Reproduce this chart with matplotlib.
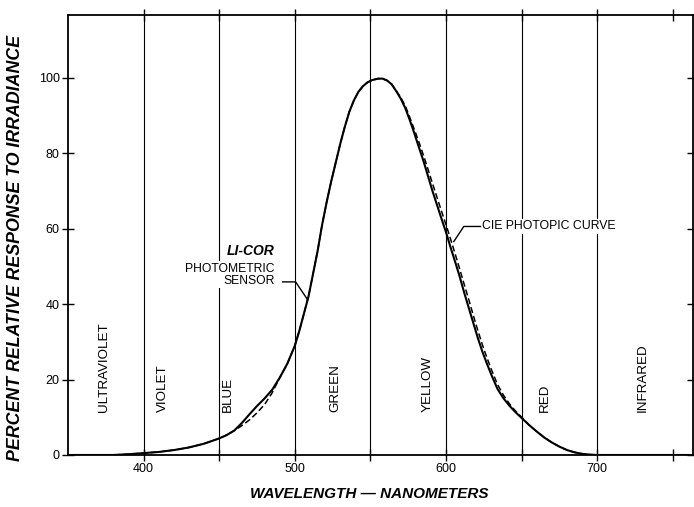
import matplotlib.pyplot as plt

plt.rcParams['font.family'] = ['Liberation Sans', 'DejaVu Sans']

# LI-COR photometric sensor response (solid line)
sensor_wl = [350, 380, 390, 400, 410, 420, 430, 440, 450, 455, 460, 465, 470, 475,
             480, 485, 490, 495, 500, 503, 506, 509, 512, 515, 518, 521, 524, 527,
             530, 533, 536, 539, 542, 545, 548, 551, 555, 558, 561, 564, 567, 570,
             573, 576, 579, 582, 585, 588, 591, 594, 597, 600, 603, 606, 609, 612,
             615, 618, 621, 624, 627, 630, 634, 638, 642, 646, 650, 655, 660, 665,
             670, 675, 680, 685, 690, 695, 700, 760]
sensor_val = [0, 0, 0.2, 0.5, 0.8, 1.3, 2.0, 3.0, 4.4, 5.3, 6.5, 8.5, 10.8, 13.0,
              15.0, 17.3, 20.5, 24.2, 29.0, 33.0, 37.5, 42.0, 48.0, 54.0, 61.0, 67.0, 72.5, 77.5,
              82.5, 87.0, 91.0, 94.0, 96.3, 97.8, 98.8, 99.4, 99.8, 99.8, 99.3, 98.3, 96.5, 94.5,
              92.0, 88.8, 85.3, 81.6, 78.0, 74.0, 70.0, 66.3, 62.6, 59.0, 55.0, 51.2, 47.3, 43.0,
              39.0, 35.0, 31.0, 27.4, 24.2, 21.2, 17.5, 15.0, 13.0, 11.3, 9.8, 7.9, 6.2, 4.6,
              3.3, 2.2, 1.3, 0.7, 0.3, 0.1, 0, 0]

# CIE photopic curve (dashed line)
cie_wl = [350, 380, 390, 400, 410, 420, 430, 440, 450, 455, 460, 465, 470, 475,
          480, 485, 490, 495, 500, 503, 506, 509, 512, 515, 518, 521, 524, 527,
          530, 533, 536, 539, 542, 545, 548, 551, 555, 558, 561, 564, 567, 570,
          573, 576, 579, 582, 585, 588, 591, 594, 597, 600, 603, 606, 609, 612,
          615, 618, 621, 624, 627, 630, 634, 638, 642, 646, 650, 655, 660, 665,
          670, 675, 680, 685, 690, 695, 700, 760]
cie_val = [0, 0, 0.2, 0.5, 0.8, 1.3, 2.0, 3.0, 4.4, 5.3, 6.5, 7.8, 9.3, 11.2,
           13.4, 16.5, 20.5, 24.2, 29.0, 33.0, 37.5, 42.0, 48.0, 54.0, 61.0, 67.0, 72.5, 77.5,
           82.5, 87.0, 91.0, 94.0, 96.3, 97.8, 98.8, 99.4, 99.8, 99.8, 99.3, 98.3, 96.6, 94.8,
           92.6, 89.5, 86.3, 83.0, 79.5, 75.8, 72.0, 68.3, 64.6, 61.0, 57.2, 53.3, 49.3, 45.2,
           41.2, 37.0, 33.0, 29.2, 25.8, 22.6, 18.7, 15.8, 13.5, 11.6, 10.0, 7.9, 6.2, 4.6,
           3.3, 2.2, 1.3, 0.7, 0.3, 0.1, 0, 0]

band_edges = [400, 450, 500, 550, 600, 650, 700]
band_names = ['ULTRAVIOLET', 'VIOLET', 'BLUE', 'GREEN', 'YELLOW', 'RED', 'INFRARED']
band_label_x = [373.6, 413, 455.5, 527, 588, 665, 730]

x_major = [400, 500, 600, 700]
x_minor = [450, 550, 650, 750]
y_ticks = [0, 20, 40, 60, 80, 100]

fig = plt.figure(figsize=(6.94, 5.07), dpi=100)
ax = fig.add_axes([0.098, 0.1026, 0.9, 0.868])

ax.set_xlim(350, 763)
ax.set_ylim(0, 116.7)

# band dividers
for x in band_edges:
    ax.axvline(x, color='black', lw=0.8, zorder=1)

ax.plot(cie_wl, cie_val, color='black', lw=1.1, ls=(0, (4, 2)), zorder=3)
ax.plot(sensor_wl, sensor_val, color='black', lw=1.5, zorder=4)

# band labels
for name, x in zip(band_names, band_label_x):
    ax.text(x, 11.4, name, rotation=90, ha='center', va='bottom', fontsize=9.6)

# sensor annotation
ax.text(486.5, 54, 'LI-COR', ha='right', va='center', fontsize=10,
        fontweight='bold', fontstyle='italic', zorder=5,
        bbox=dict(facecolor='white', edgecolor='none', pad=1))
ax.text(486.5, 47.8, 'PHOTOMETRIC\nSENSOR', ha='right', va='center', fontsize=8.7,
        multialignment='right', linespacing=1.05, zorder=5,
        bbox=dict(facecolor='white', edgecolor='none', pad=1))
ax.plot([491.9, 500.5, 508.4], [45.9, 45.9, 41.2], color='black', lw=1.0, zorder=5)

# CIE annotation
ax.text(624, 60.6, 'CIE PHOTOPIC CURVE', ha='left', va='center', fontsize=8.8, zorder=5,
        bbox=dict(facecolor='white', edgecolor='none', pad=1))
ax.plot([622.7, 611.7, 605.1], [60.6, 60.6, 56.6], color='black', lw=1.0, zorder=5)

# axes frame and ticks
for s in ax.spines.values():
    s.set_linewidth(1.3)
ax.set_xticks(x_major)
ax.set_xticks(x_minor, minor=True)
ax.set_yticks(y_ticks)
ax.tick_params(axis='both', which='both', direction='inout', length=8, width=1.0,
               top=True, right=True, labelsize=9, pad=2)

fig.text(369 / 694, 1 - 494 / 507, 'WAVELENGTH — NANOMETERS', ha='center', va='center',
         fontsize=11, fontweight='bold', fontstyle='italic')
fig.text(15.5 / 694, 1 - 248 / 507, 'PERCENT RELATIVE RESPONSE TO IRRADIANCE',
         rotation=90, ha='center', va='center', fontsize=12.8,
         fontweight='bold', fontstyle='italic')

fig.savefig('out.png', dpi=100)
